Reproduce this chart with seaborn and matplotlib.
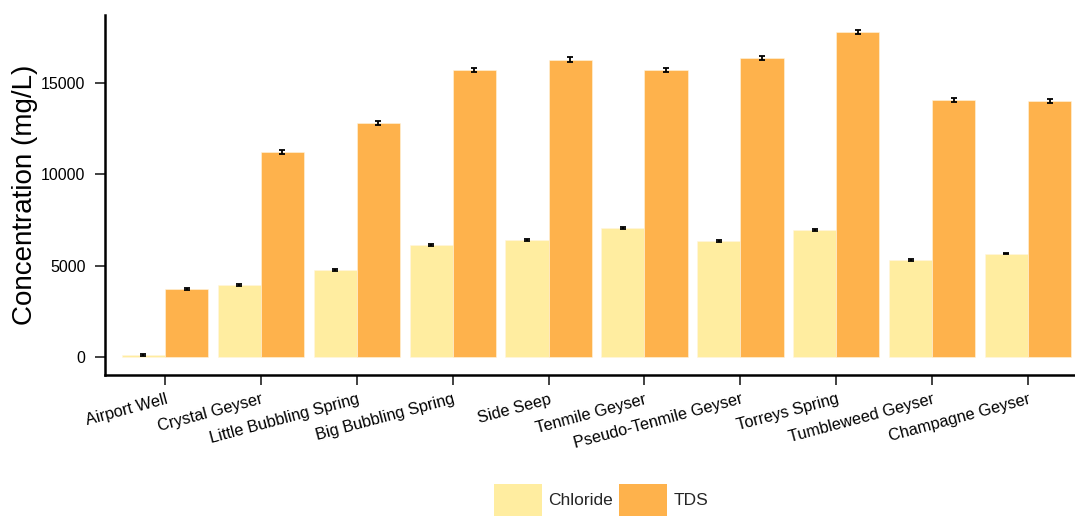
import numpy as np
import pandas as pd
import matplotlib
matplotlib.use("Agg")
import matplotlib.pyplot as plt
import seaborn as sns

# values (mg/L)
sites = ["Airport Well", "Crystal Geyser", "Little Bubbling Spring", "Big Bubbling Spring",
         "Side Seep", "Tenmile Geyser", "Pseudo-Tenmile Geyser", "Torreys Spring",
         "Tumbleweed Geyser", "Champagne Geyser"]
chloride = [110, 3940, 4760, 6120, 6410, 7070, 6340, 6960, 5310, 5660]
tds = [3730, 11220, 12810, 15730, 16280, 15700, 16380, 17780, 14060, 14000]
chloride_err = [40, 45, 45, 50, 45, 50, 50, 50, 40, 45]
tds_err = [60, 90, 90, 110, 120, 110, 110, 120, 110, 100]

analytes = ["Chloride", "TDS"]
colors = ["#FFEDA0", "#FEB24C"]

df = pd.DataFrame({
    "site": sites * 2,
    "analyte": ["Chloride"] * len(sites) + ["TDS"] * len(sites),
    "value": chloride + tds,
})

sns.set_style("ticks")
plt.rcParams["font.family"] = ["Liberation Sans", "DejaVu Sans"]

fig = plt.figure(figsize=(10.75, 5.22), dpi=100)
ax = fig.add_axes([105 / 1075, 1 - 375 / 522, 1 - 105 / 1075, 360 / 522])

sns.barplot(data=df, x="site", y="value", hue="analyte", hue_order=analytes,
            palette=colors, order=sites, width=0.9, errorbar=None,
            edgecolor="#FFF6E0", linewidth=0.4, saturation=1, ax=ax)

# error bars on top of each bar
for cont, errs in zip(ax.containers, [chloride_err, tds_err]):
    for bar, e in zip(cont, errs):
        ax.errorbar(bar.get_x() + bar.get_width() / 2, bar.get_height(), yerr=e,
                    fmt="none", ecolor="black", elinewidth=1.3, capsize=2.5, capthick=1.3)

ax.set_xlim(-0.626, 9.49)
ax.set_ylim(-985, 18720)
ax.set_yticks([0, 5000, 10000, 15000])
ax.set_xlabel("")
ax.set_ylabel("Concentration (mg/L)", fontsize=20, color="black", labelpad=2)

for s in ["top", "right"]:
    ax.spines[s].set_visible(False)
for s in ["left", "bottom"]:
    ax.spines[s].set_linewidth(1.8)
    ax.spines[s].set_color("black")

ax.tick_params(axis="both", length=7, width=1.3, color="#333333", labelcolor="black")
ax.tick_params(axis="y", labelsize=11.5, pad=7)
ax.tick_params(axis="x", labelsize=11.7, pad=5)
plt.setp(ax.get_xticklabels(), rotation=15, ha="right", rotation_mode="anchor")

ax.get_legend().remove()
handles = [plt.Rectangle((0, 0), 1, 1, facecolor=c, edgecolor="none") for c in colors]
fig.legend(handles, analytes, loc="center", bbox_to_anchor=(601 / 1075, 1 - 500 / 522),
           ncol=2, frameon=False, fontsize=12.5, handlelength=2.75, handleheight=2.5,
           handletextpad=0.35, columnspacing=0.4, borderaxespad=0)

fig.savefig("out.png", dpi=100)
